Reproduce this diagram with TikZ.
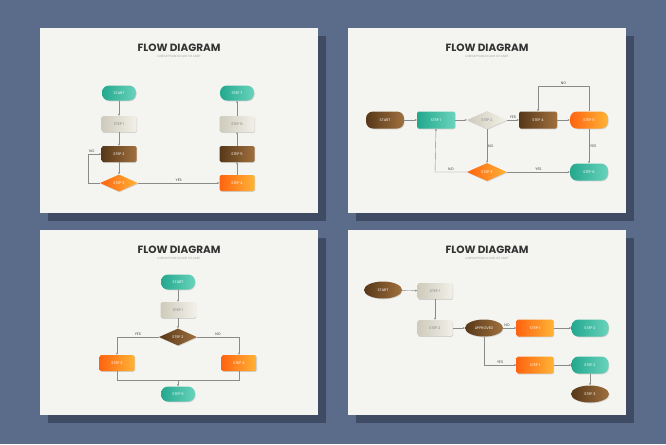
\documentclass[tikz,border=0pt]{standalone}
\usepackage{fontspec}
\setmainfont{Poppins}
\usetikzlibrary{positioning, shapes.geometric, arrows.meta, shadows}

\definecolor{bgblue}{HTML}{5B6C8B}
\definecolor{bgshade}{HTML}{3F4B63}
\definecolor{paper}{HTML}{F4F5F1}
\definecolor{tealA}{HTML}{23A88E}
\definecolor{tealB}{HTML}{6AD3BC}
\definecolor{beigeA}{HTML}{CFCBBC}
\definecolor{beigeB}{HTML}{F2F0E8}
\definecolor{brownA}{HTML}{573819}
\definecolor{brownB}{HTML}{A0703E}
\definecolor{orangeA}{HTML}{FF6410}
\definecolor{orangeB}{HTML}{FFB436}
\definecolor{linegray}{HTML}{8A8A8A}

\tikzset{
  x=1pt, y=-1pt,
  flow/.style={font=\fontsize{3.6}{4}\selectfont, text=white, inner sep=0pt,
    drop shadow={shadow xshift=0.6pt, shadow yshift=-0.8pt, opacity=0.3}},
  pill/.style={flow, rounded corners=7pt, minimum width=34, minimum height=15},
  box/.style={flow, rounded corners=1.5pt, minimum width=35, minimum height=16},
  dia/.style={flow, diamond, aspect=2.2, minimum width=38, minimum height=17},
  oval/.style={flow, ellipse, minimum width=38, minimum height=17},
  teal/.style={left color=tealA, right color=tealB},
  beige/.style={left color=beigeA, right color=beigeB, text=gray},
  brown/.style={left color=brownA, right color=brownB},
  orange/.style={left color=orangeA, right color=orangeB},
  link/.style={draw=linegray, line width=0.4pt, -{Stealth[length=2.2pt, width=2pt]}},
  tag/.style={font=\fontsize{3.6}{4}\selectfont, text=darkgray, inner sep=1pt},
  title/.style={font=\bfseries\fontsize{10.5}{11}\selectfont, text=black!80},
  subtitle/.style={font=\fontsize{3}{3.5}\selectfont, text=gray!70}
}

\begin{document}
\begin{tikzpicture}
\useasboundingbox (0,0) rectangle (666,444);
\fill[bgblue] (0,0) rectangle (666,444);

% the four sheets with their shadows
\foreach \px/\py in {40/28, 348/28, 40/230, 348/230} {
  \fill[bgshade] (\px+8,\py+8) rectangle (\px+286,\py+193);
  \fill[paper] (\px,\py) rectangle (\px+278,\py+185);
  \node[title] at (\px+139,\py+20) {FLOW DIAGRAM};
  \node[subtitle] at (\px+139,\py+28) {LOREM IPSUM DOLOR SIT AMET};
}

% sheet 1
\node[pill, teal] (a0) at (119,93) {START};
\node[box, beige] (a1) at (119,124) {STEP 1};
\node[box, brown] (a2) at (119,154) {STEP 2};
\node[dia, orange] (a3) at (119,183) {STEP 3};
\node[box, orange] (a4) at (237,183) {STEP 4};
\node[box, brown] (a5) at (237,154) {STEP 5};
\node[box, beige] (a6) at (237,124) {STEP 6};
\node[pill, teal] (a7) at (237,93) {STEP 7};
\coordinate (a3l) at (88,183);
\coordinate (a2l) at (88,154);
\draw[link] (a0) -- (a1);
\draw[link] (a1) -- (a2);
\draw[link] (a2) -- (a3);
\draw[link] (a3.west) -- (a3l) -- (a2l) node[tag, above right] {NO} -- (a2.west);
\draw[link] (a3) -- node[tag, above] {YES} (a4);
\draw[link] (a4) -- (a5);
\draw[link] (a5) -- (a6);
\draw[link] (a6) -- (a7);

% sheet 2
\node[pill, brown, minimum width=38, minimum height=17] (b0) at (385,120) {START};
\node[box, teal, minimum width=38, minimum height=17] (b1) at (436,120) {STEP 1};
\node[dia, beige, minimum width=40, minimum height=18] (b2) at (487,120) {STEP 2};
\node[box, brown, minimum width=38, minimum height=17] (b4) at (538,120) {STEP 4};
\node[pill, orange, minimum width=38, minimum height=17] (b5) at (589,120) {STEP 5};
\node[dia, orange, minimum width=40, minimum height=18] (b3) at (487,172) {STEP 3};
\node[pill, teal, minimum width=38, minimum height=17] (b6) at (589,172) {STEP 6};
\coordinate (b5t) at (589,86);
\coordinate (b4t) at (538,86);
\coordinate (b3l) at (435,172);
\draw[link] (b0) -- (b1);
\draw[link] (b1) -- (b2);
\draw[link] (b2) -- node[tag, above] {YES} (b4);
\draw[link] (b4) -- (b5);
\draw[link] (b5.north) -- (b5t) -- node[tag, above] {NO} (b4t) -- (b4.north);
\draw[link] (b5) -- node[tag, right] {YES} (b6);
\draw[link] (b2) -- node[tag, right] {NO} (b3);
\draw[link] (b3) -- node[tag, above] {YES} (b6);
\draw[link] (b3.west) -- node[tag, above] {NO} (b3l) -- (b1.south);

% sheet 3
\node[pill, teal] (c0) at (178,282) {START};
\node[box, beige] (c1) at (178,310) {STEP 1};
\node[dia, brown] (c2) at (178,337) {STEP 2};
\node[box, orange] (c3) at (117,363) {STEP 3};
\node[box, orange] (c4) at (239,363) {STEP 4};
\node[pill, teal] (c5) at (178,394) {STEP 5};
\coordinate (c3t) at (117,337);
\coordinate (c4t) at (239,337);
\coordinate (c3b) at (117,380);
\coordinate (c4b) at (239,380);
\coordinate (cm) at (178,380);
\draw[link] (c0) -- (c1);
\draw[link] (c1) -- (c2);
\draw[link] (c2.west) -- node[tag, above] {YES} (c3t) -- (c3.north);
\draw[link] (c2.east) -- node[tag, above] {NO} (c4t) -- (c4.north);
\draw[draw=linegray, line width=0.4pt] (c3.south) -- (c3b) -- (c4b) -- (c4.south);
\draw[link] (cm) -- (c5);

% sheet 4
\node[oval, brown] (d0) at (383,290) {START};
\node[box, beige] (d1) at (435,291) {STEP 1};
\node[box, beige] (d2) at (435,328) {STEP 2};
\node[oval, brown] (d3) at (484,328) {APPROVED};
\node[box, orange, minimum width=37, minimum height=17] (d4) at (535,328) {STEP 1};
\node[pill, teal, minimum width=37, minimum height=17] (d5) at (590,328) {STEP 2};
\node[box, orange, minimum width=37, minimum height=17] (d6) at (535,365) {STEP 1};
\node[pill, teal, minimum width=37, minimum height=17] (d7) at (590,365) {STEP 2};
\node[oval, brown] (d8) at (590,394) {STEP 3};
\coordinate (d3b) at (484,365);
\draw[link] (d0) -- (d1);
\draw[link] (d1) -- (d2);
\draw[link] (d2) -- (d3);
\draw[link] (d3) -- node[tag, above, pos=0.3] {NO} (d4);
\draw[link] (d4) -- (d5);
\draw[link] (d3.south) -- (d3b) -- node[tag, above] {YES} (d6);
\draw[link] (d6) -- (d7);
\draw[link] (d7) -- (d8);
\end{tikzpicture}
\end{document}
